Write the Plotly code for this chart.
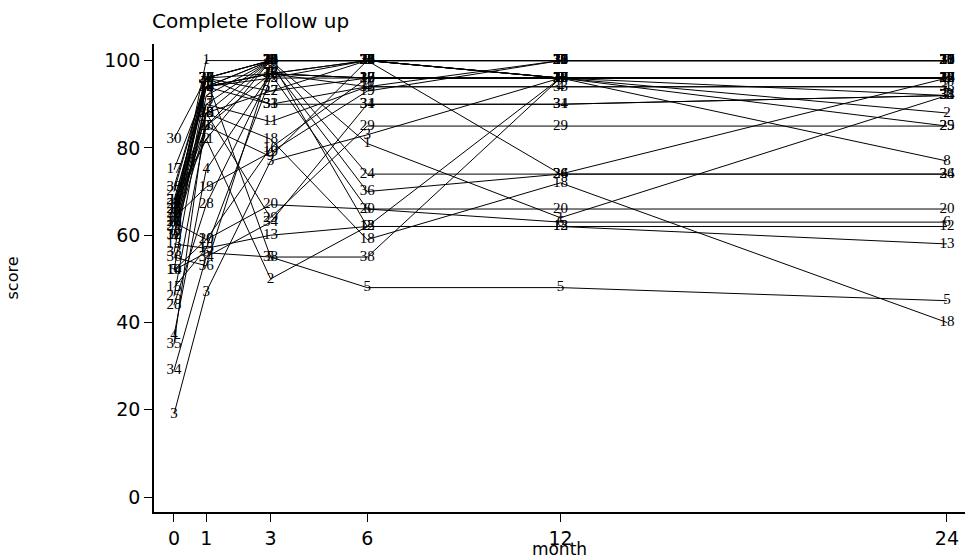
import plotly.graph_objects as go

months = [0, 1, 3, 6, 12, 24]
subject_ids = list(range(1, 39))
score_m0 = [64, 66, 19, 37, 52, 65, 64, 67, 60, 52, 63, 60, 58, 52, 48, 63, 75, 60, 64, 63,
            68, 67, 65, 66, 46, 66, 70, 44, 62, 82, 62, 68, 56, 29, 35, 55, 60, 71]
score_m1 = [100, 82, 47, 75, 56, 85, 94, 96, 85, 59, 90, 90, 57, 92, 57, 94, 94, 88, 71, 59,
            82, 88, 94, 94, 85, 96, 96, 67, 88, 96, 96, 94, 94, 55, 88, 53, 96, 96]
score_m3 = [100, 50, 77, 97, 55, 97, 97, 100, 78, 80, 86, 100, 60, 100, 96, 97, 97, 82, 79, 67,
            100, 93, 100, 100, 100, 100, 93, 97, 64, 100, 90, 96, 90, 63, 100, 99, 97, 55]
score_m6 = [81, 62, 83, 94, 48, 66, 100, 100, 100, 96, 94, 62, 62, 100, 96, 96, 96, 59, 93, 66,
            100, 96, 100, 74, 100, 100, 100, 100, 85, 100, 90, 100, 94, 90, 100, 70, 96, 55]
score_m12 = [64, 96, 96, 94, 48, 63, 100, 96, 96, 96, 100, 62, 62, 96, 96, 96, 96, 72, 100, 66,
             100, 96, 100, 74, 96, 74, 100, 100, 85, 100, 90, 96, 94, 90, 100, 74, 96, 96]
score_m24 = [92, 88, 96, 94, 45, 63, 100, 77, 96, 96, 100, 62, 58, 96, 96, 96, 96, 40, 100, 66,
             100, 96, 100, 74, 85, 96, 100, 100, 85, 100, 92, 96, 94, 92, 100, 74, 96, 92]

columns = [score_m0, score_m1, score_m3, score_m6, score_m12, score_m24]

fig = go.Figure()
for i, sid in enumerate(subject_ids):
    ys = [col[i] for col in columns]
    fig.add_trace(go.Scatter(
        x=months, y=ys, mode="lines+text",
        text=[str(sid)] * len(months), textposition="middle center",
        textfont=dict(family="Liberation Serif", size=15, color="#000000"),
        line=dict(color="black", width=1),
        showlegend=False, hoverinfo="skip", cliponaxis=False,
    ))

fig.update_layout(
    width=965, height=559,
    margin=dict(l=154, r=0, t=44, b=47),
    paper_bgcolor="white", plot_bgcolor="white",
    title=dict(text="Complete Follow up", x=152 / 965, xanchor="left", y=0.962, yanchor="middle",
               font=dict(family="DejaVu Sans", size=20, color="black")),
    font=dict(family="DejaVu Sans", color="black"),
)
fig.update_xaxes(
    range=[-0.62, 24.56], tickvals=months, ticktext=[str(m) for m in months],
    showline=True, linecolor="black", linewidth=1.5, ticks="outside", ticklen=8, tickcolor="black",
    showgrid=False, zeroline=False, tickfont=dict(size=19, family="DejaVu Sans"),
    title=dict(text="month", font=dict(size=17, family="DejaVu Sans"), standoff=0),
)
fig.update_yaxes(
    range=[-3.4, 103.8], tickvals=[0, 20, 40, 60, 80, 100],
    showline=True, linecolor="black", linewidth=1.5, ticks="outside", ticklen=8, tickcolor="black",
    showgrid=False, zeroline=False, tickfont=dict(size=19, family="DejaVu Sans"),
    title=dict(text="score", font=dict(size=16, family="DejaVu Sans"), standoff=82),
)

fig.write_html("out.html")
